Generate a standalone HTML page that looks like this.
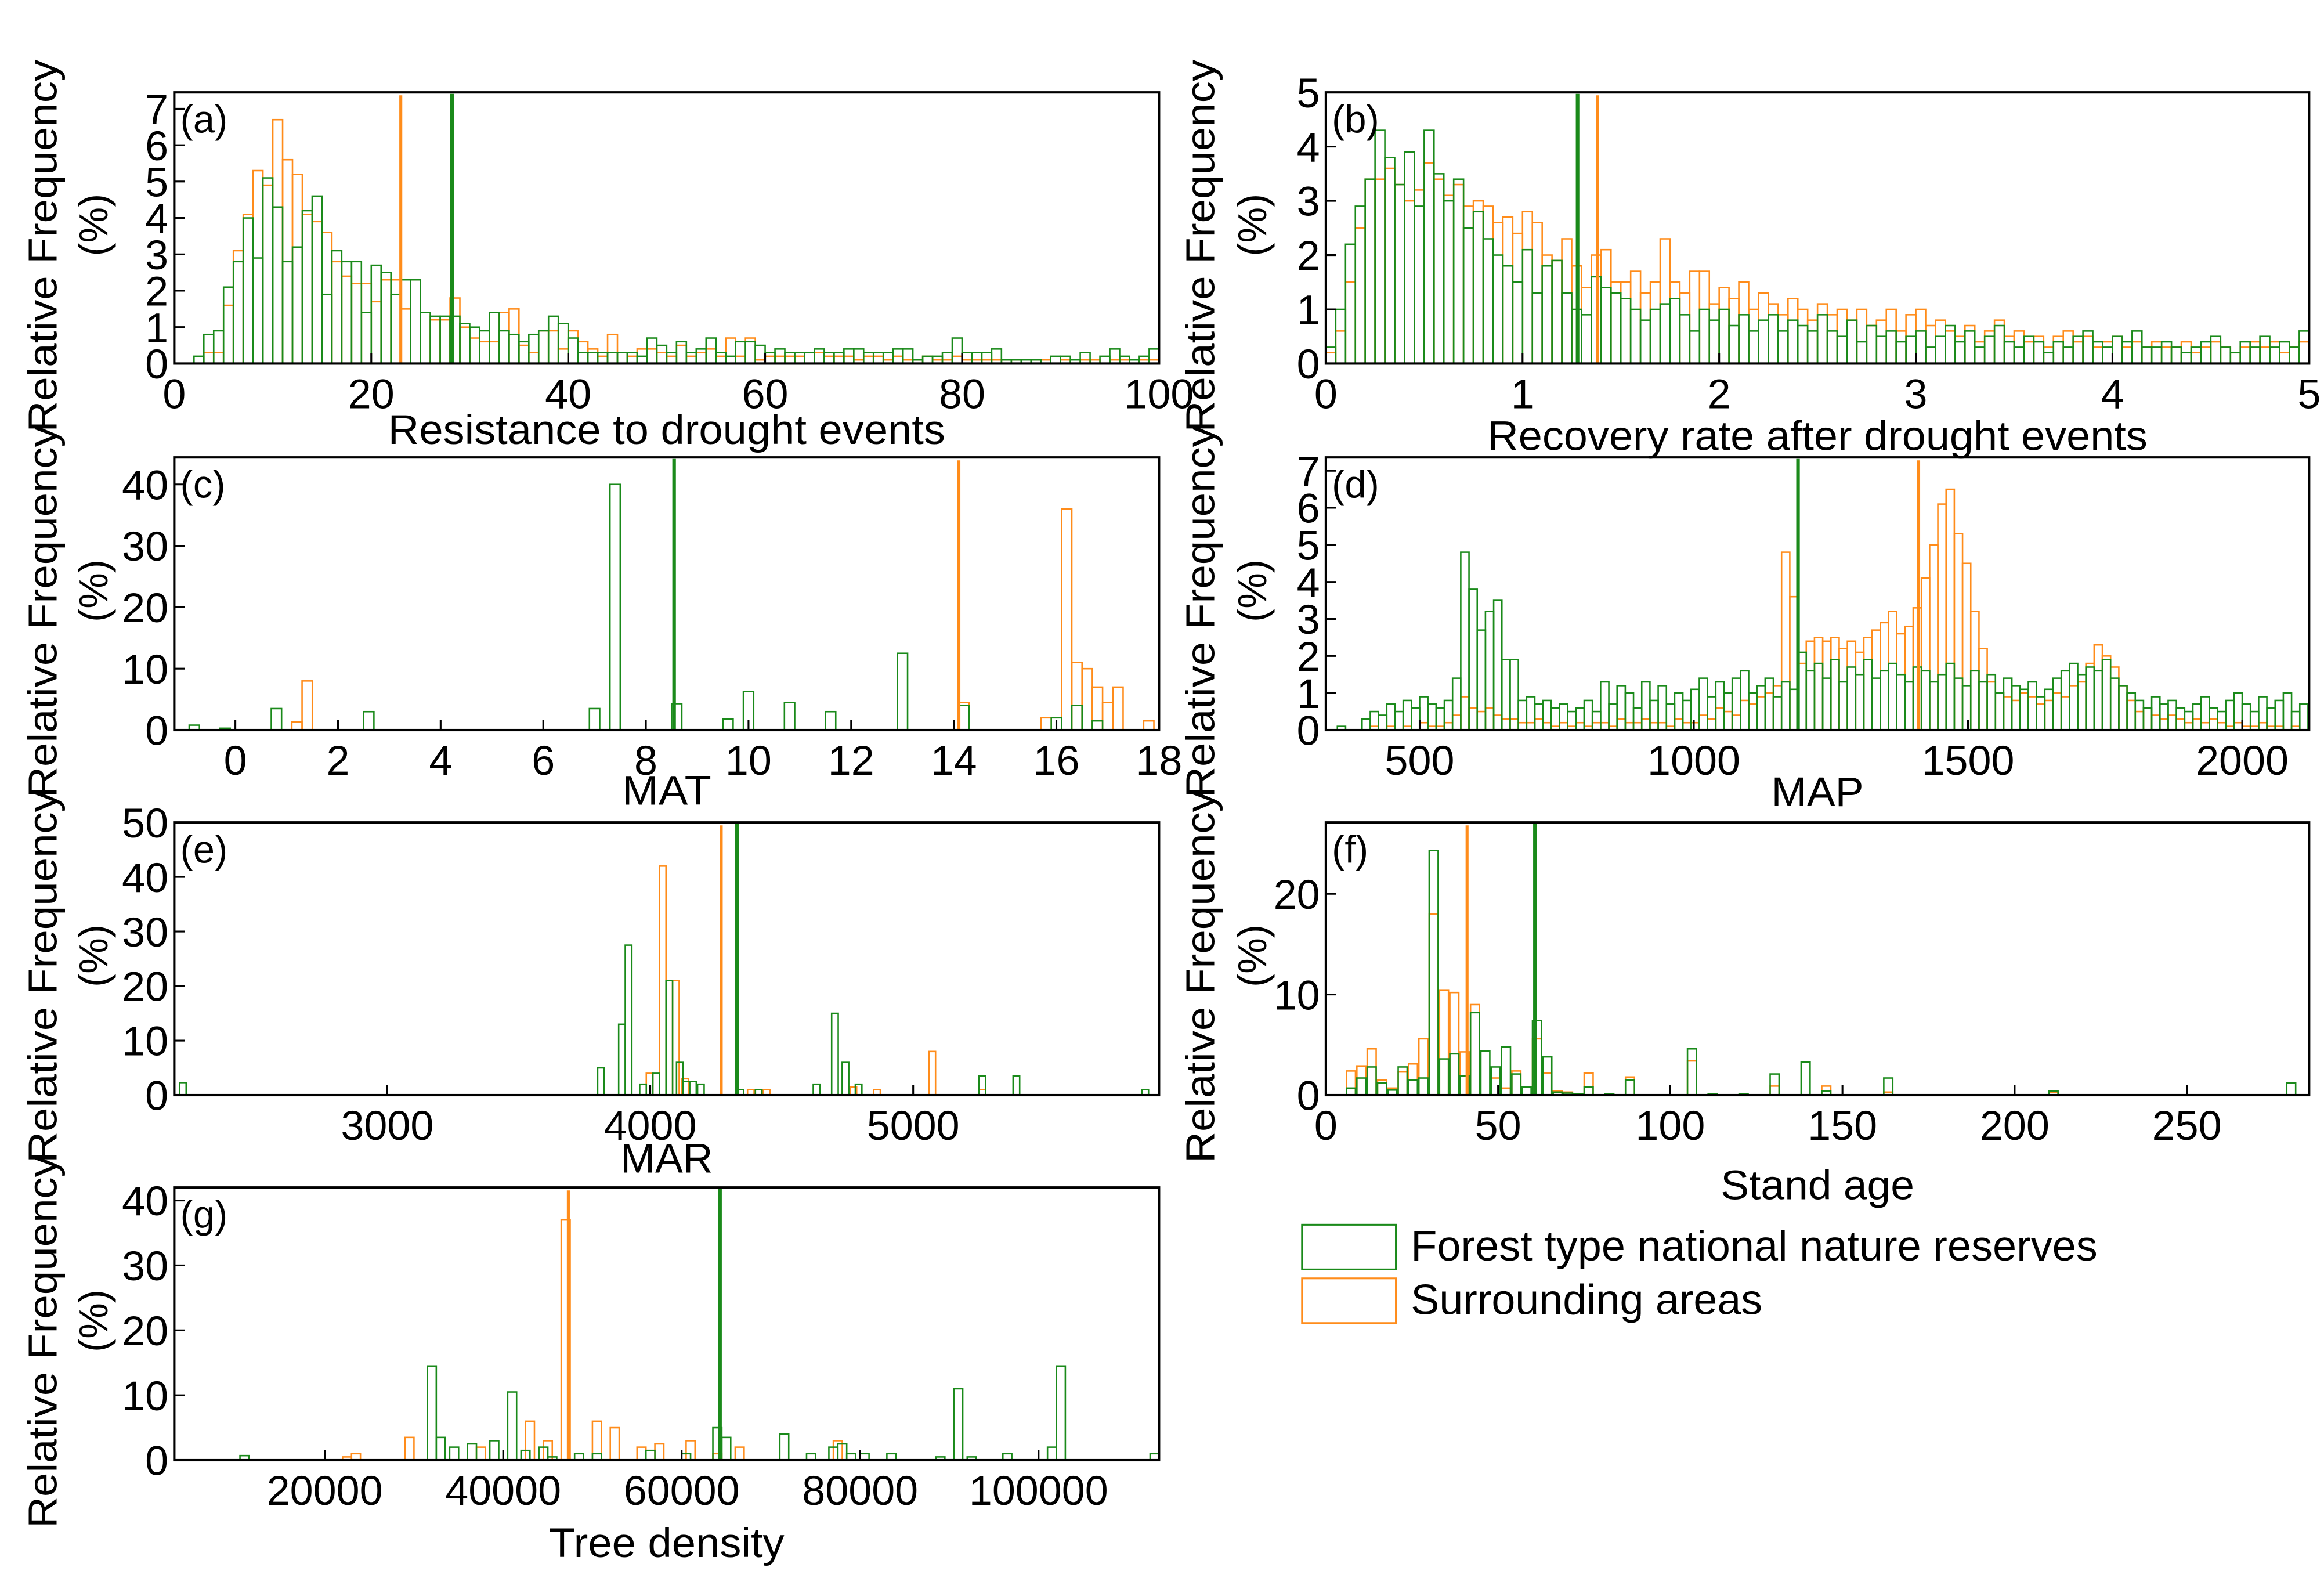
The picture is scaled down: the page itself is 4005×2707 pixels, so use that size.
<!DOCTYPE html>
<html><head><meta charset="utf-8"><style>
html,body{margin:0;padding:0;background:#fff}
svg{display:block}
text{font-family:"Liberation Sans Narrow","Liberation Sans",sans-serif;fill:#000}
.yt{font-family:"Liberation Sans",sans-serif}
</style></head><body>
<svg id="chart" xmlns="http://www.w3.org/2000/svg" width="4005" height="2707" viewBox="0 0 1560 1054.4" preserveAspectRatio="none">
<g id="root"></g>
<g>
<rect x="874" y="822" width="63" height="30" fill="none" stroke="#1a8a1a" stroke-width="1.2"/>
<text x="947" y="846" font-size="28.5" textLength="461" lengthAdjust="spacingAndGlyphs">Forest type national nature reserves</text>
<rect x="874" y="858" width="63" height="30" fill="none" stroke="#ff8c1a" stroke-width="1.2"/>
<text x="947" y="882" font-size="28.5" textLength="236" lengthAdjust="spacingAndGlyphs">Surrounding areas</text>
</g>
</svg>
<script>
// (a) Resistance, bins width 1 from 0
const aGreen=[0,0,0.2,0.8,0.9,2.1,2.8,4.0,2.9,5.1,4.3,2.8,3.2,4.2,4.6,1.9,3.1,2.8,2.8,1.4,2.7,2.5,1.9,2.3,2.3,1.4,1.3,1.3,1.3,1.1,1.0,0.9,1.4,0.9,0.8,0.6,0.8,0.9,1.3,1.1,0.7,0.3,0.3,0.3,0.3,0.3,0.3,0.2,0.7,0.5,0.3,0.6,0.3,0.4,0.7,0.3,0.2,0.6,0.6,0.5,0.3,0.4,0.3,0.3,0.3,0.4,0.3,0.3,0.4,0.4,0.3,0.3,0.3,0.4,0.4,0.1,0.2,0.2,0.3,0.7,0.3,0.3,0.3,0.4,0.1,0.1,0.1,0.1,0.0,0.2,0.2,0.1,0.3,0.0,0.2,0.4,0.2,0.1,0.2,0.4];
const aOrange=[0,0,0,0.3,0.3,1.6,3.1,4.1,5.3,4.9,6.7,5.6,5.2,4.1,3.9,3.6,2.8,2.4,2.2,2.2,1.7,2.3,2.3,1.5,2.3,1.4,1.2,1.2,1.8,1.0,0.7,0.6,0.6,1.4,1.5,0.5,0.3,0.9,0.9,0.4,0.9,0.6,0.4,0.2,0.8,0.3,0.2,0.4,0.4,0.3,0.2,0.5,0.2,0.3,0.4,0.2,0.7,0.2,0.7,0.1,0.2,0.2,0.2,0.2,0.3,0.3,0.2,0.2,0.2,0.1,0.2,0.2,0.1,0.2,0.1,0.1,0.2,0.1,0.1,0.2,0.1,0.1,0.1,0.1,0.1,0.1,0,0.1,0.1,0,0.1,0,0.1,0.1,0,0.1,0.1,0,0.1,0.1];
// (b) Recovery, bins width 0.05 from 0
const bGreen=[0.3,1.0,2.2,2.9,3.4,4.3,3.8,3.3,3.9,2.9,4.3,3.5,3.0,3.4,2.5,2.8,2.3,2.0,1.8,1.5,2.1,1.3,1.8,1.9,1.3,1.0,0.9,1.6,1.4,1.3,1.2,1.0,0.8,1.0,1.1,1.2,0.9,0.6,1.0,0.8,1.0,0.7,0.9,0.6,0.8,0.9,0.6,0.8,0.7,0.6,0.9,0.6,0.5,0.8,0.4,0.7,0.5,0.6,0.4,0.5,0.6,0.3,0.5,0.7,0.4,0.6,0.3,0.5,0.7,0.4,0.3,0.5,0.4,0.2,0.4,0.3,0.5,0.6,0.4,0.3,0.5,0.4,0.6,0.3,0.3,0.4,0.3,0.2,0.3,0.4,0.5,0.3,0.2,0.4,0.3,0.5,0.3,0.4,0.3,0.6];
const bOrange=[0.2,0.6,1.5,2.5,3.4,3.4,3.6,3.3,3.0,3.2,3.7,3.4,3.1,3.3,2.9,3.0,2.9,2.6,2.7,2.4,2.8,2.6,2.0,1.9,2.3,1.8,1.4,2.0,2.1,1.5,1.5,1.7,1.3,1.5,2.3,1.5,1.3,1.7,1.7,1.1,1.4,1.2,1.5,1.0,1.3,1.1,0.9,1.2,1.0,0.8,1.1,0.9,1.0,0.8,1.0,0.7,0.8,1.0,0.6,0.9,1.0,0.7,0.8,0.6,0.5,0.7,0.4,0.6,0.8,0.5,0.6,0.4,0.5,0.3,0.5,0.6,0.4,0.5,0.3,0.4,0.5,0.3,0.4,0.3,0.4,0.3,0.3,0.4,0.2,0.3,0.4,0.3,0.2,0.3,0.4,0.3,0.4,0.2,0.3,0.4];
// (c) MAT sparse, bin width 0.2
const cGreenBins=[-0.9,-0.3,0.7,2.5,6.9,7.3,8.5,9.5,9.9,10.7,11.5,12.9,14.1,15.9,16.3,16.7];
const cGreenVals=[0.8,0.3,3.5,3.0,3.5,40,4.3,1.8,6.3,4.5,3.0,12.5,4.0,2.0,4.0,1.5];
const cOrangeBins=[1.1,1.3,14.1,15.7,16.1,16.3,16.5,16.7,16.9,17.1,17.7];
const cOrangeVals=[1.3,8.0,4.5,2.0,36,11,10,7,4.5,7,1.5];
// (d) MAP, bins width 15 from 350
const dGreen=[0.1,0,0,0.3,0.5,0.4,0.7,0.5,0.8,0.6,0.9,0.7,0.6,0.8,1.4,4.8,3.8,2.7,3.2,3.5,1.9,1.9,0.8,0.9,0.7,0.8,0.6,0.7,0.5,0.6,0.8,0.5,1.3,0.7,1.2,1.0,0.6,1.3,0.8,1.2,0.7,1.0,0.8,1.1,1.4,0.9,1.3,1.0,1.4,1.6,1.0,1.2,1.4,0.9,1.3,1.1,2.1,1.6,1.8,1.4,1.9,1.3,1.7,1.5,1.9,1.4,1.6,1.8,1.5,1.3,1.7,1.6,1.3,1.5,1.8,1.4,1.2,1.6,1.3,1.5,1.0,1.4,1.2,1.1,1.3,0.9,1.1,1.4,1.6,1.8,1.5,1.7,1.6,1.9,1.4,1.2,1.0,0.8,0.6,0.9,0.7,0.8,0.6,0.5,0.7,0.9,0.6,0.5,0.8,1.0,0.7,0.5,0.9,0.6,0.8,1.0,0.5,0.7];
const dOrange=[0,0,0,0,0.1,0,0.1,0,0.1,0,0.2,0.1,0.1,0.2,0.4,0.9,0.6,0.5,0.6,0.4,0.3,0.3,0.2,0.2,0.3,0.2,0.1,0.2,0.1,0.2,0.1,0.2,0.2,0.1,0.3,0.2,0.2,0.3,0.2,0.2,0.1,0.3,0.2,0.2,0.4,0.3,0.6,0.5,0.4,0.8,0.7,0.9,1.0,1.2,4.8,3.6,1.8,2.4,2.5,2.4,2.5,2.2,2.4,2.1,2.5,2.7,2.9,3.2,2.6,2.8,3.3,4.1,5.0,6.1,6.5,5.3,4.5,3.2,2.2,1.3,1.0,0.9,0.8,1.0,0.9,0.7,0.8,1.0,0.9,1.2,1.3,1.8,2.3,2.0,1.7,1.2,0.8,0.5,0.6,0.4,0.3,0.4,0.3,0.2,0.3,0.2,0.3,0.2,0.1,0.2,0.1,0.1,0.2,0.1,0.1,0,0.1,0];
// (e) MAR sparse, bin width 25
const eGreenBins=[2210,3800,3880,3905,3960,4010,4060,4100,4125,4150,4180,4330,4400,4620,4690,4730,4780,5250,5380,5870];
const eGreenVals=[2.3,5,13,27.5,2,4,21,6,2.5,2.5,2,1,1,2,15,6,2,3.5,3.5,1];
const eOrangeBins=[3985,4035,4085,4120,4370,4430,4760,4850,5060,5250];
const eOrangeVals=[4,42,21,3,1,1,1.5,1,8,1];
// (f) Stand age, bin width 3
const fGreenBins=[6,9,12,15,18,21,24,27,30,33,36,39,42,45,48,51,54,57,60,63,66,69,72,75,81,87,105,111,120,129,138,144,162,210,279];
const fGreenVals=[0.7,1.7,2.8,1.2,0.5,2.8,1.5,1.7,24.3,3.6,4.1,1.9,8.2,4.4,2.8,4.8,2.1,0.8,7.4,3.8,0.3,0.2,0.1,0.8,0.1,1.5,4.6,0.1,0.1,2.1,3.3,0.4,1.7,0.4,1.2];
const fOrangeBins=[6,9,12,15,18,21,24,27,30,33,36,39,42,48,51,54,60,63,66,69,75,87,105,129,144,162,210];
const fOrangeVals=[2.4,2.9,4.6,1.5,0.7,2.3,3.1,5.6,18,10.4,10.2,4.3,9,1.7,0.7,2.4,5.6,2.2,0.4,0.3,2.2,1.8,3.4,0.9,0.9,0.3,0.3];
// (g) Tree density sparse, bin width 1000
const gGreenBins=[10500,31500,32500,34000,36000,38500,40500,42000,44000,45000,48000,50000,56000,60000,63500,64500,71000,74000,76500,77500,78500,80000,83000,88500,90500,92000,96000,101000,102000,112500];
const gGreenVals=[0.7,14.5,3.5,2,2.5,3,10.5,1.5,2,0.5,1,1,1.5,1,5,3.5,4,1,2,2.5,1,1,1,0.5,11,0.5,1,2,14.5,1];
const gOrangeBins=[22000,23000,29000,37000,42500,44500,46500,50000,52000,55000,57000,60500,63500,66000,77000];
const gOrangeVals=[0.5,1,3.5,2,6,3,37,6,5,2,2.5,3,1,2,3];
// means
const meansGreen=[28.2,1.28,8.55,1190,4330,60.7,64300];
const meansOrange=[23,1.38,14.1,1410,4270,41,47300];
// tick labels
const aXTicks=[0,20,40,60,80,100], bXTicks=[0,1,2,3,4,5], cXTicks=[0,2,4,6,8,10,12,14,16,18];
const dXTicks=[500,1000,1500,2000], eXTicks=[3000,4000,5000], fXTicks=[0,50,100,150,200,250];
const gXTicks=[20000,40000,60000,80000,100000];
const aYTicks=[0,1,2,3,4,5,6,7], bYTicks=[0,1,2,3,4,5], cYTicks=[0,10,20,30,40], dYTicks=[0,1,2,3,4,5,6,7];
const eYTicks=[0,10,20,30,40,50], fYTicks=[0,10,20], gYTicks=[0,10,20,30,40];

const G='#1a8a1a', O='#ff8c1a';
const NS='http://www.w3.org/2000/svg';
const root=document.getElementById('root');
function mk(tag,attrs,parent){const e=document.createElementNS(NS,tag);for(const k in attrs)e.setAttribute(k,attrs[k]);(parent||root).appendChild(e);return e;}

const panels=[
 {id:'a',x0:117,x1:778,y0:62,y1:244,xmin:0,xmax:100,ymax:7.45,w:1,xt:aXTicks,yt:aYTicks,title:'Resistance to drought events',ty:298,tl:374,
  series:[[null,aOrange,0],[null,aGreen,0]]},
 {id:'b',x0:890,x1:1550,y0:62,y1:244,xmin:0,xmax:5,ymax:5,w:0.05,xt:bXTicks,yt:bYTicks,title:'Recovery rate after drought events',ty:302,tl:443,
  series:[[null,bOrange,0],[null,bGreen,0]]},
 {id:'c',x0:117,x1:778,y0:307,y1:490,xmin:-1.19,xmax:18,ymax:44.4,w:0.2,xt:cXTicks,yt:cYTicks,title:'MAT',ty:540,tl:60,
  series:[[cOrangeBins,cOrangeVals],[cGreenBins,cGreenVals]]},
 {id:'d',x0:890,x1:1550,y0:307,y1:490,xmin:329,xmax:2122,ymax:7.36,w:15,xt:dXTicks,yt:dYTicks,title:'MAP',ty:541,tl:62,
  series:[[null,dOrange,350],[null,dGreen,350]]},
 {id:'e',x0:117,x1:778,y0:552,y1:735,xmin:2190,xmax:5935,ymax:50,w:25,xt:eXTicks,yt:eYTicks,title:'MAR',ty:787,tl:62,
  series:[[eOrangeBins,eOrangeVals],[eGreenBins,eGreenVals]]},
 {id:'f',x0:890,x1:1550,y0:552,y1:735,xmin:0,xmax:285.5,ymax:27.1,w:2.6,xt:fXTicks,yt:fYTicks,title:'Stand age',ty:805,tl:130,
  series:[[fOrangeBins,fOrangeVals],[fGreenBins,fGreenVals]]},
 {id:'g',x0:117,x1:778,y0:797,y1:980,xmin:3140,xmax:113500,ymax:42,w:1000,xt:gXTicks,yt:gYTicks,title:'Tree density',ty:1045,tl:158,
  series:[[gOrangeBins,gOrangeVals],[gGreenBins,gGreenVals]]}
];

panels.forEach((p,pi)=>{
 const g=mk('g',{});
 
 
 const X=v=>p.x0+(v-p.xmin)/(p.xmax-p.xmin)*(p.x1-p.x0);
 const Y=v=>p.y1-v/p.ymax*(p.y1-p.y0);
 const cols=[O,G];
 p.series.forEach((s,si)=>{
  const sg=mk('g',{fill:'none',stroke:cols[si],'stroke-width':'1'},g);
  
  
  const vals=s[1];
  vals.forEach((v,i)=>{
   if(v<=0) return;
   const b=s[0]?s[0][i]:s[2]+i*p.w;
   const xa=X(b), xb=X(b+p.w);
   const r=mk('rect',{x:xa,y:Y(v),width:Math.max(0.5,xb-xa),height:Y(0)-Y(v)},sg);
   
   
  });
 });
 const lo=mk('line',{x1:X(meansOrange[pi]),x2:X(meansOrange[pi]),y1:p.y0+2,y2:p.y1,stroke:O,'stroke-width':2},g);
 
 
 const lg=mk('line',{x1:X(meansGreen[pi]),x2:X(meansGreen[pi]),y1:p.y0+1,y2:p.y1,stroke:G,'stroke-width':2.4},g);
 
 
 const fr=mk('rect',{x:p.x0,y:p.y0,width:p.x1-p.x0,height:p.y1-p.y0,fill:'none',stroke:'#000','stroke-width':1.6},g);
 
 
 p.xt.forEach(t=>{
  const x=X(t);
  mk('line',{x1:x,x2:x,y1:p.y1,y2:p.y1-7,stroke:'#000','stroke-width':1.2},g);
  const tx=mk('text',{x:x,y:p.y1+30,'font-size':28,'text-anchor':'middle'},g);
  tx.textContent=t;
  
  
 });
 p.yt.forEach(t=>{
  const y=Y(t);
  mk('line',{x1:p.x0,x2:p.x0+7,y1:y,y2:y,stroke:'#000','stroke-width':1.2},g);
  const tx=mk('text',{x:p.x0-4,y:y+10,'font-size':28,'text-anchor':'end'},g);
  tx.textContent=t;
  
  
 });
 const xt=mk('text',{x:(p.x0+p.x1)/2,y:p.ty,'font-size':28,'text-anchor':'middle',textLength:p.tl,lengthAdjust:'spacingAndGlyphs'},g);
 xt.textContent=p.title;
 
 
 const lab=mk('text',{x:p.x0+4,y:p.y0+27,'font-size':26},g);
 lab.textContent='('+p.id+')';
 
 
 const cy=(p.y0+p.y1)/2+12;
 const lx=p.x0<500?38:815, px=p.x0<500?72:850;
 const yl=mk('text',{x:lx,y:cy,'font-size':27,'text-anchor':'middle','class':'yt',transform:`rotate(-90 ${lx} ${cy})`,textLength:250,lengthAdjust:'spacingAndGlyphs'},g);
 yl.textContent='Relative Frequency';
 
 
 const yp=mk('text',{x:px,y:cy-14,'font-size':27,'text-anchor':'middle','class':'yt',transform:`rotate(-90 ${px} ${cy-14})`},g);
 yp.textContent='(%)';
 
 
});
</script>
</body></html>
